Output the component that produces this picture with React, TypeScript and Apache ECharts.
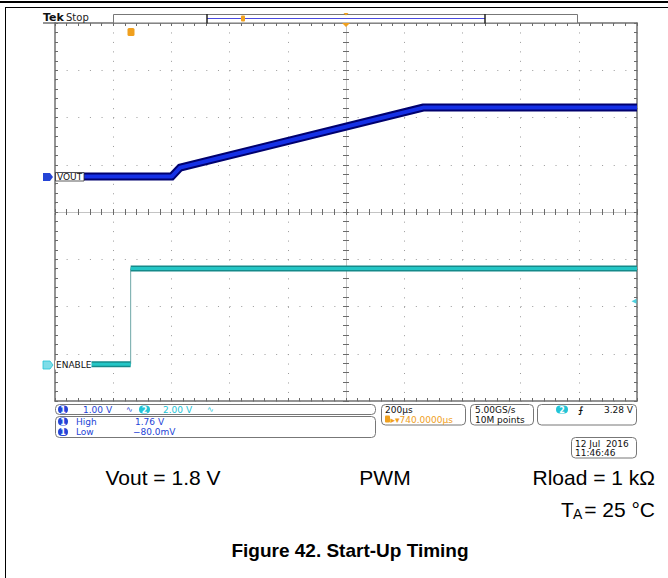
import { useEffect, useRef } from 'react';
import * as echarts from 'echarts';

// ---- scope settings / data ----
const timePerDiv = 200; // µs/div
const triggerDelay = 740; // µs, screen centre relative to trigger
const ch1Scale = 1; // V/div
const ch2Scale = 2; // V/div
const ch1Offset = 0.75; // div above centre (ground marker)
const ch2Offset = -3.22; // div
const voutTime = [-260, 141, 170, 1005, 1740]; // µs
const voutVolts = [0, 0, 0.19, 1.46, 1.46]; // V
const enableTime = [-260, 0, 0, 1740]; // µs
const enableVolts = [0, 0, 4.05, 4.05]; // V
const trigLevelShown = 2.66; // V where the level marker sits

const FONT_SCOPE = 'DejaVu Sans';
const FONT_DOC = 'Liberation Sans';

const BLUE = '#2444d6';
const CYAN = '#22c4d6';
const ORANGE = '#f0a01e';
const GRAY = '#707070';

function pairs(t: number[], v: number[]) {
  return t.map((x, i) => [x, v[i]]);
}

function txt(text: string, x: number, y: number, fill: string, font: string, align = 'left', extra: any = {}) {
  return {
    type: 'text',
    z: 100,
    style: { text, x, y, fill, font, textAlign: align, textVerticalAlign: 'middle', ...extra },
  };
}
function rrect(x: number, y: number, w: number, h: number, r: number, stroke: string, fill = '#fff', lw = 1) {
  return { type: 'rect', z: 99, shape: { x, y, width: w, height: h, r }, style: { stroke, fill, lineWidth: lw } };
}
function pill(x: number, y: number, w: number, h: number, color: string, label: string) {
  return [
    { type: 'rect', z: 100, shape: { x, y, width: w, height: h, r: h / 2 }, style: { fill: color } },
    txt(label, x + w / 2, y + h / 2 + 0.5, '#fff', `bold 8px ${FONT_SCOPE}`, 'center'),
  ];
}

export default function App() {
  const ref = useRef<HTMLDivElement>(null);
  useEffect(() => {
    if (!ref.current) return;
    const chart = echarts.init(ref.current, undefined, { renderer: 'svg' });

    const xMin = triggerDelay - 5 * timePerDiv;
    const xMax = triggerDelay + 5 * timePerDiv;
    const ch1Min = (-4 - ch1Offset) * ch1Scale;
    const ch1Max = (4 - ch1Offset) * ch1Scale;
    const ch2Min = (-4 - ch2Offset) * ch2Scale;
    const ch2Max = (4 - ch2Offset) * ch2Scale;

    const vout = pairs(voutTime, voutVolts);
    const en = pairs(enableTime, enableVolts);
    const enLow = en.slice(0, 2);
    const enHigh = en.slice(2);
    const enEdge = en.slice(1, 3);

    const tickStyle = { color: '#6a6a6a', width: 1 };
    const borderX = (position: string, split: boolean) => ({
      type: 'value', min: -5, max: 5, interval: 1, position,
      axisLine: { show: true, onZero: false, lineStyle: { color: GRAY, width: 1.5 } },
      axisTick: { show: true, inside: true, length: 3, lineStyle: tickStyle },
      minorTick: { show: true, splitNumber: 5, length: 3, lineStyle: tickStyle },
      axisLabel: { show: false },
      splitLine: { show: split, lineStyle: { color: '#9a9a9a', width: 1, type: [1, 8.46] } },
    });
    const centerX = (position: string) => ({
      type: 'value', min: -5, max: 5, interval: 1, position,
      axisLine: { show: true, onZero: true, onZeroAxisIndex: 0, lineStyle: { color: '#c4c4c4', width: 1 } },
      axisTick: { show: true, inside: true, length: 3, lineStyle: tickStyle },
      minorTick: { show: true, splitNumber: 5, length: 3, lineStyle: tickStyle },
      axisLabel: { show: false },
      splitLine: { show: false },
    });
    const borderY = (position: string, split: boolean) => ({
      type: 'value', min: -4, max: 4, interval: 1, position,
      axisLine: { show: true, onZero: false, lineStyle: { color: GRAY, width: 1.5 } },
      axisTick: { show: true, inside: true, length: 3, lineStyle: tickStyle },
      minorTick: { show: true, splitNumber: 5, length: 3, lineStyle: tickStyle },
      axisLabel: { show: false },
      splitLine: { show: split, lineStyle: { color: '#9a9a9a', width: 1, type: [1, 10.64] } },
    });
    const centerY = (position: string) => ({
      type: 'value', min: -4, max: 4, interval: 1, position,
      axisLine: { show: true, onZero: true, onZeroAxisIndex: 0, lineStyle: { color: '#c4c4c4', width: 1 } },
      axisTick: { show: true, inside: true, length: 3, lineStyle: tickStyle },
      minorTick: { show: true, splitNumber: 5, length: 3, lineStyle: tickStyle },
      axisLabel: { show: false },
      splitLine: { show: false },
    });

    const graphics: any[] = [
      // page frame
      { type: 'rect', z: 100, shape: { x: 0, y: 1, width: 668, height: 2 }, style: { fill: '#000' } },
      { type: 'line', z: 100, shape: { x1: 5, y1: 7.5, x2: 668, y2: 7.5 }, style: { stroke: '#000', lineWidth: 1 } },
      { type: 'line', z: 100, shape: { x1: 5.5, y1: 7, x2: 5.5, y2: 578 }, style: { stroke: '#000', lineWidth: 1 } },
      // Tek Stop
      txt('Tek', 43, 17, '#111', `bold 11px ${FONT_SCOPE}`),
      txt('Stop', 66, 17, '#222', `10px ${FONT_SCOPE}`),
      { type: 'line', z: 100, shape: { x1: 43, y1: 23, x2: 56, y2: 23 }, style: { stroke: GRAY, lineWidth: 1.5 } },
      // record bar
      { type: 'rect', z: 99, shape: { x: 113.5, y: 14.5, width: 464, height: 8.5 }, style: { stroke: '#777', fill: '#fff', lineWidth: 1 } },
      { type: 'line', z: 100, shape: { x1: 207, y1: 18.5, x2: 485, y2: 18.5 }, style: { stroke: '#4a4ae0', lineWidth: 1 } },
      { type: 'line', z: 100, shape: { x1: 207, y1: 14, x2: 207, y2: 23.5 }, style: { stroke: '#222', lineWidth: 1.5 } },
      { type: 'line', z: 100, shape: { x1: 485, y1: 14, x2: 485, y2: 23.5 }, style: { stroke: '#222', lineWidth: 1.5 } },
      { type: 'rect', z: 101, shape: { x: 241, y: 15.5, width: 4, height: 6, r: 1 }, style: { fill: ORANGE } },
      { type: 'polygon', z: 101, shape: { points: [[343.5, 13], [348.5, 13], [346, 15.5]] }, style: { fill: ORANGE } },
      { type: 'polygon', z: 101, shape: { points: [[342, 23], [350, 23], [346, 27]] }, style: { fill: ORANGE } },
      // trigger position marker
      { type: 'rect', z: 101, shape: { x: 127.5, y: 28, width: 7, height: 8, r: 1.5 }, style: { fill: ORANGE } },
      txt('T', 131, 32.5, '#fff', `bold 7px ${FONT_SCOPE}`, 'center'),
      // ch1 marker + label
      { type: 'polygon', z: 101, shape: { points: [[43, 173], [50, 173], [53, 177], [50, 181], [43, 181]] }, style: { fill: BLUE } },
      txt('1', 47, 177.5, '#fff', `bold 7px ${FONT_SCOPE}`, 'center'),
      { type: 'rect', z: 100, shape: { x: 55.5, y: 172.5, width: 28.5, height: 8.5 }, style: { stroke: '#333', fill: '#fff', lineWidth: 0.8 } },
      txt('VOUT', 57, 177, '#111', `9px ${FONT_SCOPE}`),
      // ch2 marker + label
      { type: 'polygon', z: 101, shape: { points: [[43, 361], [50, 361], [53, 365], [50, 369], [43, 369]] }, style: { fill: '#7fdde8', stroke: CYAN, lineWidth: 0.8 } },
      txt('2', 47, 365.5, '#fff', `bold 7px ${FONT_SCOPE}`, 'center'),
      { type: 'rect', z: 100, shape: { x: 55, y: 360.5, width: 36.5, height: 9 }, style: { fill: '#fff' } },
      txt('ENABLE', 56, 365, '#111', `9px ${FONT_SCOPE}`),
      // info box row 1
      rrect(55.5, 404.5, 320, 10, 4, '#777'),
      ...pill(58, 405.5, 10, 8, BLUE, '1'),
      txt('1.00 V', 83, 409.5, BLUE, `9px ${FONT_SCOPE}`),
      txt('∿', 126, 409.5, BLUE, `8px ${FONT_SCOPE}`),
      ...pill(139, 405.5, 11, 8, CYAN, '2'),
      txt('2.00 V', 163, 409.5, CYAN, `9px ${FONT_SCOPE}`),
      txt('∿', 207, 409.5, CYAN, `8px ${FONT_SCOPE}`),
      // measurements
      rrect(55.5, 416.5, 320, 21, 4, '#777'),
      ...pill(58, 417.5, 10, 8, BLUE, '1'),
      txt('High', 76, 421.5, BLUE, `9px ${FONT_SCOPE}`),
      txt('1.76 V', 135, 421.5, BLUE, `9px ${FONT_SCOPE}`),
      ...pill(58, 428, 10, 8, BLUE, '1'),
      txt('Low', 76, 432, BLUE, `9px ${FONT_SCOPE}`),
      txt('\u221280.0mV', 133, 432, BLUE, `9px ${FONT_SCOPE}`),
      // horizontal box
      rrect(381.5, 404.5, 84, 20.5, 4, '#777'),
      txt('200µs', 385, 409.5, '#111', `9px ${FONT_SCOPE}`),
      { type: 'rect', z: 101, shape: { x: 385, y: 415.5, width: 5, height: 7, r: 1 }, style: { fill: ORANGE } },
      txt('T', 387.5, 419.3, '#fff', `bold 6px ${FONT_SCOPE}`, 'center'),
      txt('\u25B8\u25BE740.0000µs', 390.5, 419.5, ORANGE, `9px ${FONT_SCOPE}`),
      rrect(470.5, 404.5, 63, 20.5, 4, '#777'),
      txt('5.00GS/s', 475, 409.5, '#111', `9px ${FONT_SCOPE}`),
      txt('10M points', 475, 419.5, '#111', `9px ${FONT_SCOPE}`),
      rrect(537.5, 404.5, 99, 20.5, 4, '#777'),
      ...pill(556, 405.5, 12, 8, CYAN, '2'),
      txt('\u2A0D', 578, 409.5, '#111', `bold 9px ${FONT_SCOPE}`),
      txt('3.28 V', 633, 409.5, '#111', `9px ${FONT_SCOPE}`, 'right'),
      rrect(571.5, 437.5, 65, 20.5, 4, '#777'),
      txt('12 Jul  2016', 575, 443.5, '#111', `9px ${FONT_SCOPE}`),
      txt('11:46:46', 575, 453, '#111', `9px ${FONT_SCOPE}`),
      // document text
      txt('Vout = 1.8 V', 163, 477, '#000', `21px ${FONT_DOC}`, 'center'),
      txt('PWM', 385, 477, '#000', `21px ${FONT_DOC}`, 'center'),
      txt('Rload = 1 kΩ', 655, 477, '#000', `21px ${FONT_DOC}`, 'right'),
      txt('T', 561, 509, '#000', `21px ${FONT_DOC}`),
      txt('A', 573, 514, '#000', `14px ${FONT_DOC}`),
      txt('= 25 °C', 655, 509, '#000', `21px ${FONT_DOC}`, 'right'),
      txt('Figure 42. Start-Up Timing', 350, 550, '#000', `bold 19px ${FONT_DOC}`, 'center'),
    ];

    chart.setOption({
      animation: false,
      backgroundColor: '#fff',
      grid: { left: 55, top: 23, width: 582, height: 378, show: false, containLabel: false },
      xAxis: [
        borderX('bottom', true),
        borderX('top', false),
        centerX('bottom'),
        centerX('top'),
        { type: 'value', min: xMin, max: xMax, show: false },
      ],
      yAxis: [
        borderY('left', true),
        borderY('right', false),
        centerY('left'),
        centerY('right'),
        { type: 'value', min: ch1Min, max: ch1Max, show: false },
        { type: 'value', min: ch2Min, max: ch2Max, show: false },
      ],
      series: [
        { type: 'line', name: 'VOUT', xAxisIndex: 4, yAxisIndex: 4, data: vout, symbol: 'none', z: 5,
          lineStyle: { color: '#00006e', width: 8, join: 'miter' } },
        { type: 'line', name: 'VOUT core', xAxisIndex: 4, yAxisIndex: 4, data: vout, symbol: 'none', z: 6,
          lineStyle: { color: '#1530e6', width: 4 } },
        { type: 'line', name: 'ENABLE edge', xAxisIndex: 4, yAxisIndex: 5, data: enEdge, symbol: 'none', z: 4,
          lineStyle: { color: '#6fa8a8', width: 1 } },
        { type: 'line', name: 'ENABLE low', xAxisIndex: 4, yAxisIndex: 5, data: enLow, symbol: 'none', z: 5,
          lineStyle: { color: '#158a8a', width: 6 } },
        { type: 'line', name: 'ENABLE low core', xAxisIndex: 4, yAxisIndex: 5, data: enLow, symbol: 'none', z: 6,
          lineStyle: { color: '#24c6c6', width: 3 } },
        { type: 'line', name: 'ENABLE high', xAxisIndex: 4, yAxisIndex: 5, data: enHigh, symbol: 'none', z: 5,
          lineStyle: { color: '#158a8a', width: 6 } },
        { type: 'line', name: 'ENABLE high core', xAxisIndex: 4, yAxisIndex: 5, data: enHigh, symbol: 'none', z: 6,
          lineStyle: { color: '#24c6c6', width: 3 } },
        { type: 'scatter', name: 'trigger level', xAxisIndex: 4, yAxisIndex: 5, data: [[xMax, trigLevelShown]],
          symbol: 'triangle', symbolSize: [5, 5], symbolRotate: 90, symbolOffset: [-3, 0], z: 7,
          itemStyle: { color: CYAN } },
      ],
      graphic: { elements: graphics },
    });
    return () => chart.dispose();
  }, []);
  return <div ref={ref} style={{ position: 'fixed', left: 0, top: 0, width: 668, height: 578 }} />;
}
